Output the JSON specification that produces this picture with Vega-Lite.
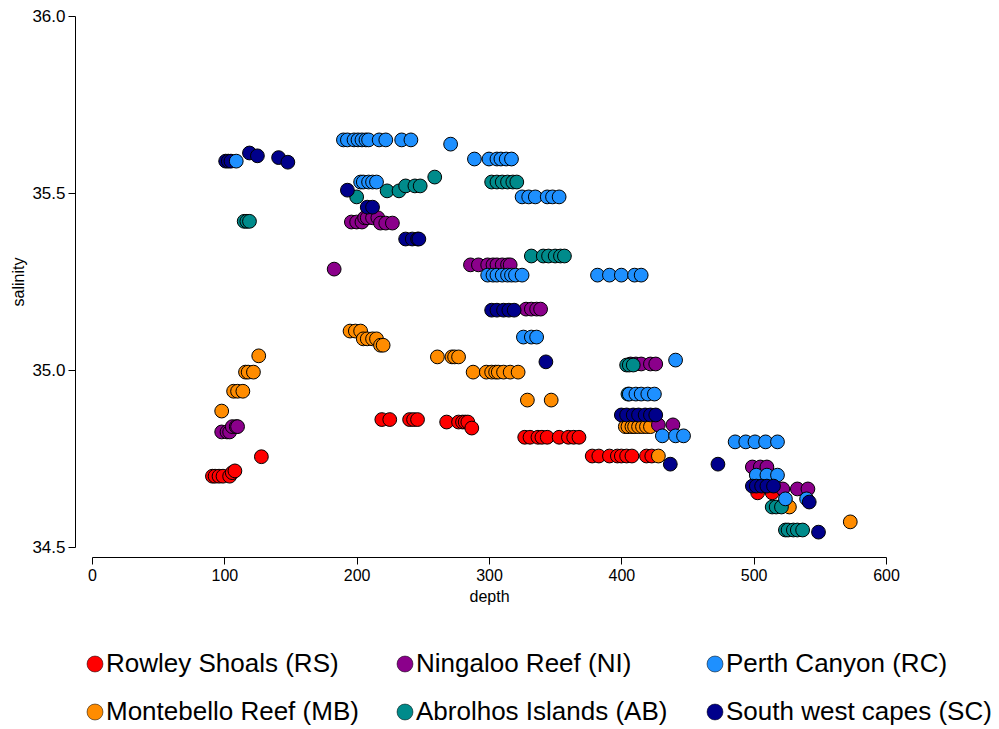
{
  "$schema": "https://vega.github.io/schema/vega-lite/v6.json",
  "width": 794,
  "height": 531,
  "autosize": {"type": "none"},
  "padding": {"left": 92, "top": 16, "right": 113, "bottom": 182},
  "background": "white",
  "config": {
    "view": {"stroke": null},
    "font": "Liberation Sans",
    "axis": {"grid": false, "domainColor": "black", "tickColor": "black", "labelColor": "black", "titleColor": "black", "titleFontWeight": "normal", "labelFont": "Liberation Sans", "titleFont": "Liberation Sans"}
  },
  "data": {"values": [
    {"site": "South west capes (SC)", "depth": 101, "salinity": 35.59},
    {"site": "South west capes (SC)", "depth": 103, "salinity": 35.59},
    {"site": "South west capes (SC)", "depth": 105, "salinity": 35.59},

    {"site": "Rowley Shoals (RS)", "depth": 91, "salinity": 34.70},
    {"site": "Rowley Shoals (RS)", "depth": 93, "salinity": 34.70},
    {"site": "Rowley Shoals (RS)", "depth": 96, "salinity": 34.70},
    {"site": "Rowley Shoals (RS)", "depth": 99, "salinity": 34.70},
    {"site": "Rowley Shoals (RS)", "depth": 104, "salinity": 34.70},
    {"site": "Rowley Shoals (RS)", "depth": 106, "salinity": 34.71},
    {"site": "Rowley Shoals (RS)", "depth": 108, "salinity": 34.715},
    {"site": "Rowley Shoals (RS)", "depth": 128, "salinity": 34.755},
    {"site": "Rowley Shoals (RS)", "depth": 219, "salinity": 34.86},
    {"site": "Rowley Shoals (RS)", "depth": 225, "salinity": 34.86},
    {"site": "Rowley Shoals (RS)", "depth": 240, "salinity": 34.86},
    {"site": "Rowley Shoals (RS)", "depth": 243, "salinity": 34.86},
    {"site": "Rowley Shoals (RS)", "depth": 246, "salinity": 34.86},
    {"site": "Rowley Shoals (RS)", "depth": 268, "salinity": 34.853},
    {"site": "Rowley Shoals (RS)", "depth": 277, "salinity": 34.853},
    {"site": "Rowley Shoals (RS)", "depth": 280, "salinity": 34.853},
    {"site": "Rowley Shoals (RS)", "depth": 282, "salinity": 34.853},
    {"site": "Rowley Shoals (RS)", "depth": 284, "salinity": 34.853},
    {"site": "Rowley Shoals (RS)", "depth": 287, "salinity": 34.836},
    {"site": "Rowley Shoals (RS)", "depth": 327, "salinity": 34.81},
    {"site": "Rowley Shoals (RS)", "depth": 331, "salinity": 34.81},
    {"site": "Rowley Shoals (RS)", "depth": 337, "salinity": 34.81},
    {"site": "Rowley Shoals (RS)", "depth": 340, "salinity": 34.81},
    {"site": "Rowley Shoals (RS)", "depth": 344, "salinity": 34.81},
    {"site": "Rowley Shoals (RS)", "depth": 353, "salinity": 34.81},
    {"site": "Rowley Shoals (RS)", "depth": 360, "salinity": 34.81},
    {"site": "Rowley Shoals (RS)", "depth": 364, "salinity": 34.81},
    {"site": "Rowley Shoals (RS)", "depth": 368, "salinity": 34.81},
    {"site": "Rowley Shoals (RS)", "depth": 378, "salinity": 34.757},
    {"site": "Rowley Shoals (RS)", "depth": 383, "salinity": 34.757},
    {"site": "Rowley Shoals (RS)", "depth": 391, "salinity": 34.757},
    {"site": "Rowley Shoals (RS)", "depth": 397, "salinity": 34.757},
    {"site": "Rowley Shoals (RS)", "depth": 400, "salinity": 34.757},
    {"site": "Rowley Shoals (RS)", "depth": 404, "salinity": 34.757},
    {"site": "Rowley Shoals (RS)", "depth": 408, "salinity": 34.757},
    {"site": "Rowley Shoals (RS)", "depth": 419, "salinity": 34.757},
    {"site": "Rowley Shoals (RS)", "depth": 423, "salinity": 34.757},
    {"site": "Rowley Shoals (RS)", "depth": 503, "salinity": 34.653},
    {"site": "Rowley Shoals (RS)", "depth": 514, "salinity": 34.653},

    {"site": "Montebello Reef (MB)", "depth": 98, "salinity": 34.884},
    {"site": "Montebello Reef (MB)", "depth": 107, "salinity": 34.94},
    {"site": "Montebello Reef (MB)", "depth": 110, "salinity": 34.94},
    {"site": "Montebello Reef (MB)", "depth": 114, "salinity": 34.94},
    {"site": "Montebello Reef (MB)", "depth": 116, "salinity": 34.994},
    {"site": "Montebello Reef (MB)", "depth": 118, "salinity": 34.994},
    {"site": "Montebello Reef (MB)", "depth": 122, "salinity": 34.994},
    {"site": "Montebello Reef (MB)", "depth": 126, "salinity": 35.04},
    {"site": "Montebello Reef (MB)", "depth": 195, "salinity": 35.11},
    {"site": "Montebello Reef (MB)", "depth": 199, "salinity": 35.11},
    {"site": "Montebello Reef (MB)", "depth": 203, "salinity": 35.11},
    {"site": "Montebello Reef (MB)", "depth": 205, "salinity": 35.088},
    {"site": "Montebello Reef (MB)", "depth": 208, "salinity": 35.088},
    {"site": "Montebello Reef (MB)", "depth": 212, "salinity": 35.088},
    {"site": "Montebello Reef (MB)", "depth": 215, "salinity": 35.088},
    {"site": "Montebello Reef (MB)", "depth": 218, "salinity": 35.07},
    {"site": "Montebello Reef (MB)", "depth": 220, "salinity": 35.07},
    {"site": "Montebello Reef (MB)", "depth": 261, "salinity": 35.037},
    {"site": "Montebello Reef (MB)", "depth": 272, "salinity": 35.037},
    {"site": "Montebello Reef (MB)", "depth": 274, "salinity": 35.037},
    {"site": "Montebello Reef (MB)", "depth": 277, "salinity": 35.037},
    {"site": "Montebello Reef (MB)", "depth": 288, "salinity": 34.994},
    {"site": "Montebello Reef (MB)", "depth": 298, "salinity": 34.994},
    {"site": "Montebello Reef (MB)", "depth": 302, "salinity": 34.994},
    {"site": "Montebello Reef (MB)", "depth": 305, "salinity": 34.994},
    {"site": "Montebello Reef (MB)", "depth": 307, "salinity": 34.994},
    {"site": "Montebello Reef (MB)", "depth": 311, "salinity": 34.994},
    {"site": "Montebello Reef (MB)", "depth": 316, "salinity": 34.994},
    {"site": "Montebello Reef (MB)", "depth": 322, "salinity": 34.994},
    {"site": "Montebello Reef (MB)", "depth": 329, "salinity": 34.915},
    {"site": "Montebello Reef (MB)", "depth": 347, "salinity": 34.915},
    {"site": "Montebello Reef (MB)", "depth": 403, "salinity": 34.84},
    {"site": "Montebello Reef (MB)", "depth": 405, "salinity": 34.84},
    {"site": "Montebello Reef (MB)", "depth": 408, "salinity": 34.84},
    {"site": "Montebello Reef (MB)", "depth": 410, "salinity": 34.84},
    {"site": "Montebello Reef (MB)", "depth": 413, "salinity": 34.84},
    {"site": "Montebello Reef (MB)", "depth": 416, "salinity": 34.84},
    {"site": "Montebello Reef (MB)", "depth": 419, "salinity": 34.84},
    {"site": "Montebello Reef (MB)", "depth": 422, "salinity": 34.84},
    {"site": "Montebello Reef (MB)", "depth": 428, "salinity": 34.757},
    {"site": "Montebello Reef (MB)", "depth": 527, "salinity": 34.613},
    {"site": "Montebello Reef (MB)", "depth": 573, "salinity": 34.571},

    {"site": "Ningaloo Reef (NI)", "depth": 98, "salinity": 34.825},
    {"site": "Ningaloo Reef (NI)", "depth": 102, "salinity": 34.825},
    {"site": "Ningaloo Reef (NI)", "depth": 104, "salinity": 34.825},
    {"site": "Ningaloo Reef (NI)", "depth": 106, "salinity": 34.84},
    {"site": "Ningaloo Reef (NI)", "depth": 109, "salinity": 34.84},
    {"site": "Ningaloo Reef (NI)", "depth": 110, "salinity": 34.84},
    {"site": "Ningaloo Reef (NI)", "depth": 183, "salinity": 35.285},
    {"site": "Ningaloo Reef (NI)", "depth": 196, "salinity": 35.418},
    {"site": "Ningaloo Reef (NI)", "depth": 200, "salinity": 35.418},
    {"site": "Ningaloo Reef (NI)", "depth": 204, "salinity": 35.418},
    {"site": "Ningaloo Reef (NI)", "depth": 206, "salinity": 35.43},
    {"site": "Ningaloo Reef (NI)", "depth": 208, "salinity": 35.43},
    {"site": "Ningaloo Reef (NI)", "depth": 212, "salinity": 35.43},
    {"site": "Ningaloo Reef (NI)", "depth": 216, "salinity": 35.43},
    {"site": "Ningaloo Reef (NI)", "depth": 218, "salinity": 35.415},
    {"site": "Ningaloo Reef (NI)", "depth": 222, "salinity": 35.415},
    {"site": "Ningaloo Reef (NI)", "depth": 227, "salinity": 35.415},
    {"site": "Ningaloo Reef (NI)", "depth": 286, "salinity": 35.297},
    {"site": "Ningaloo Reef (NI)", "depth": 292, "salinity": 35.297},
    {"site": "Ningaloo Reef (NI)", "depth": 299, "salinity": 35.297},
    {"site": "Ningaloo Reef (NI)", "depth": 303, "salinity": 35.297},
    {"site": "Ningaloo Reef (NI)", "depth": 306, "salinity": 35.297},
    {"site": "Ningaloo Reef (NI)", "depth": 310, "salinity": 35.297},
    {"site": "Ningaloo Reef (NI)", "depth": 314, "salinity": 35.297},
    {"site": "Ningaloo Reef (NI)", "depth": 316, "salinity": 35.297},
    {"site": "Ningaloo Reef (NI)", "depth": 328, "salinity": 35.172},
    {"site": "Ningaloo Reef (NI)", "depth": 332, "salinity": 35.172},
    {"site": "Ningaloo Reef (NI)", "depth": 336, "salinity": 35.172},
    {"site": "Ningaloo Reef (NI)", "depth": 339, "salinity": 35.172},
    {"site": "Ningaloo Reef (NI)", "depth": 407, "salinity": 35.017},
    {"site": "Ningaloo Reef (NI)", "depth": 411, "salinity": 35.017},
    {"site": "Ningaloo Reef (NI)", "depth": 415, "salinity": 35.017},
    {"site": "Ningaloo Reef (NI)", "depth": 422, "salinity": 35.017},
    {"site": "Ningaloo Reef (NI)", "depth": 426, "salinity": 35.017},
    {"site": "Ningaloo Reef (NI)", "depth": 428, "salinity": 34.845},
    {"site": "Ningaloo Reef (NI)", "depth": 439, "salinity": 34.845},
    {"site": "Ningaloo Reef (NI)", "depth": 499, "salinity": 34.726},
    {"site": "Ningaloo Reef (NI)", "depth": 505, "salinity": 34.726},
    {"site": "Ningaloo Reef (NI)", "depth": 510, "salinity": 34.726},
    {"site": "Ningaloo Reef (NI)", "depth": 522, "salinity": 34.664},
    {"site": "Ningaloo Reef (NI)", "depth": 533, "salinity": 34.664},
    {"site": "Ningaloo Reef (NI)", "depth": 541, "salinity": 34.664},

    {"site": "Abrolhos Islands (AB)", "depth": 115, "salinity": 35.42},
    {"site": "Abrolhos Islands (AB)", "depth": 117, "salinity": 35.42},
    {"site": "Abrolhos Islands (AB)", "depth": 119, "salinity": 35.42},
    {"site": "Abrolhos Islands (AB)", "depth": 200, "salinity": 35.489},
    {"site": "Abrolhos Islands (AB)", "depth": 223, "salinity": 35.506},
    {"site": "Abrolhos Islands (AB)", "depth": 232, "salinity": 35.506},
    {"site": "Abrolhos Islands (AB)", "depth": 237, "salinity": 35.52},
    {"site": "Abrolhos Islands (AB)", "depth": 244, "salinity": 35.52},
    {"site": "Abrolhos Islands (AB)", "depth": 248, "salinity": 35.52},
    {"site": "Abrolhos Islands (AB)", "depth": 259, "salinity": 35.545},
    {"site": "Abrolhos Islands (AB)", "depth": 302, "salinity": 35.531},
    {"site": "Abrolhos Islands (AB)", "depth": 306, "salinity": 35.531},
    {"site": "Abrolhos Islands (AB)", "depth": 310, "salinity": 35.531},
    {"site": "Abrolhos Islands (AB)", "depth": 314, "salinity": 35.531},
    {"site": "Abrolhos Islands (AB)", "depth": 318, "salinity": 35.531},
    {"site": "Abrolhos Islands (AB)", "depth": 321, "salinity": 35.531},
    {"site": "Abrolhos Islands (AB)", "depth": 332, "salinity": 35.322},
    {"site": "Abrolhos Islands (AB)", "depth": 341, "salinity": 35.322},
    {"site": "Abrolhos Islands (AB)", "depth": 345, "salinity": 35.322},
    {"site": "Abrolhos Islands (AB)", "depth": 350, "salinity": 35.322},
    {"site": "Abrolhos Islands (AB)", "depth": 354, "salinity": 35.322},
    {"site": "Abrolhos Islands (AB)", "depth": 357, "salinity": 35.322},
    {"site": "Abrolhos Islands (AB)", "depth": 404, "salinity": 35.014},
    {"site": "Abrolhos Islands (AB)", "depth": 406, "salinity": 35.014},
    {"site": "Abrolhos Islands (AB)", "depth": 409, "salinity": 35.014},
    {"site": "Abrolhos Islands (AB)", "depth": 405, "salinity": 34.932},
    {"site": "Abrolhos Islands (AB)", "depth": 514, "salinity": 34.613},
    {"site": "Abrolhos Islands (AB)", "depth": 517, "salinity": 34.613},
    {"site": "Abrolhos Islands (AB)", "depth": 521, "salinity": 34.613},
    {"site": "Abrolhos Islands (AB)", "depth": 524, "salinity": 34.548},
    {"site": "Abrolhos Islands (AB)", "depth": 526, "salinity": 34.548},
    {"site": "Abrolhos Islands (AB)", "depth": 530, "salinity": 34.548},
    {"site": "Abrolhos Islands (AB)", "depth": 533, "salinity": 34.548},
    {"site": "Abrolhos Islands (AB)", "depth": 537, "salinity": 34.548},

    {"site": "Perth Canyon (RC)", "depth": 109, "salinity": 35.59},
    {"site": "Perth Canyon (RC)", "depth": 190, "salinity": 35.65},
    {"site": "Perth Canyon (RC)", "depth": 193, "salinity": 35.65},
    {"site": "Perth Canyon (RC)", "depth": 198, "salinity": 35.65},
    {"site": "Perth Canyon (RC)", "depth": 201, "salinity": 35.65},
    {"site": "Perth Canyon (RC)", "depth": 204, "salinity": 35.65},
    {"site": "Perth Canyon (RC)", "depth": 207, "salinity": 35.65},
    {"site": "Perth Canyon (RC)", "depth": 209, "salinity": 35.65},
    {"site": "Perth Canyon (RC)", "depth": 217, "salinity": 35.65},
    {"site": "Perth Canyon (RC)", "depth": 222, "salinity": 35.65},
    {"site": "Perth Canyon (RC)", "depth": 234, "salinity": 35.65},
    {"site": "Perth Canyon (RC)", "depth": 241, "salinity": 35.65},
    {"site": "Perth Canyon (RC)", "depth": 271, "salinity": 35.638},
    {"site": "Perth Canyon (RC)", "depth": 289, "salinity": 35.596},
    {"site": "Perth Canyon (RC)", "depth": 300, "salinity": 35.596},
    {"site": "Perth Canyon (RC)", "depth": 306, "salinity": 35.596},
    {"site": "Perth Canyon (RC)", "depth": 309, "salinity": 35.596},
    {"site": "Perth Canyon (RC)", "depth": 313, "salinity": 35.596},
    {"site": "Perth Canyon (RC)", "depth": 317, "salinity": 35.596},
    {"site": "Perth Canyon (RC)", "depth": 203, "salinity": 35.531},
    {"site": "Perth Canyon (RC)", "depth": 205, "salinity": 35.531},
    {"site": "Perth Canyon (RC)", "depth": 209, "salinity": 35.531},
    {"site": "Perth Canyon (RC)", "depth": 212, "salinity": 35.531},
    {"site": "Perth Canyon (RC)", "depth": 215, "salinity": 35.531},
    {"site": "Perth Canyon (RC)", "depth": 325, "salinity": 35.489},
    {"site": "Perth Canyon (RC)", "depth": 330, "salinity": 35.489},
    {"site": "Perth Canyon (RC)", "depth": 335, "salinity": 35.489},
    {"site": "Perth Canyon (RC)", "depth": 344, "salinity": 35.489},
    {"site": "Perth Canyon (RC)", "depth": 348, "salinity": 35.489},
    {"site": "Perth Canyon (RC)", "depth": 353, "salinity": 35.489},
    {"site": "Perth Canyon (RC)", "depth": 299, "salinity": 35.268},
    {"site": "Perth Canyon (RC)", "depth": 303, "salinity": 35.268},
    {"site": "Perth Canyon (RC)", "depth": 306, "salinity": 35.268},
    {"site": "Perth Canyon (RC)", "depth": 310, "salinity": 35.268},
    {"site": "Perth Canyon (RC)", "depth": 314, "salinity": 35.268},
    {"site": "Perth Canyon (RC)", "depth": 317, "salinity": 35.268},
    {"site": "Perth Canyon (RC)", "depth": 320, "salinity": 35.268},
    {"site": "Perth Canyon (RC)", "depth": 325, "salinity": 35.268},
    {"site": "Perth Canyon (RC)", "depth": 382, "salinity": 35.268},
    {"site": "Perth Canyon (RC)", "depth": 391, "salinity": 35.268},
    {"site": "Perth Canyon (RC)", "depth": 400, "salinity": 35.268},
    {"site": "Perth Canyon (RC)", "depth": 410, "salinity": 35.268},
    {"site": "Perth Canyon (RC)", "depth": 415, "salinity": 35.268},
    {"site": "Perth Canyon (RC)", "depth": 326, "salinity": 35.093},
    {"site": "Perth Canyon (RC)", "depth": 332, "salinity": 35.093},
    {"site": "Perth Canyon (RC)", "depth": 336, "salinity": 35.093},
    {"site": "Perth Canyon (RC)", "depth": 441, "salinity": 35.028},
    {"site": "Perth Canyon (RC)", "depth": 406, "salinity": 34.932},
    {"site": "Perth Canyon (RC)", "depth": 411, "salinity": 34.932},
    {"site": "Perth Canyon (RC)", "depth": 415, "salinity": 34.932},
    {"site": "Perth Canyon (RC)", "depth": 420, "salinity": 34.932},
    {"site": "Perth Canyon (RC)", "depth": 425, "salinity": 34.932},
    {"site": "Perth Canyon (RC)", "depth": 431, "salinity": 34.814},
    {"site": "Perth Canyon (RC)", "depth": 441, "salinity": 34.814},
    {"site": "Perth Canyon (RC)", "depth": 447, "salinity": 34.814},
    {"site": "Perth Canyon (RC)", "depth": 486, "salinity": 34.797},
    {"site": "Perth Canyon (RC)", "depth": 494, "salinity": 34.797},
    {"site": "Perth Canyon (RC)", "depth": 501, "salinity": 34.797},
    {"site": "Perth Canyon (RC)", "depth": 509, "salinity": 34.797},
    {"site": "Perth Canyon (RC)", "depth": 518, "salinity": 34.797},
    {"site": "Perth Canyon (RC)", "depth": 502, "salinity": 34.703},
    {"site": "Perth Canyon (RC)", "depth": 510, "salinity": 34.703},
    {"site": "Perth Canyon (RC)", "depth": 518, "salinity": 34.703},
    {"site": "Perth Canyon (RC)", "depth": 524, "salinity": 34.636},
    {"site": "Perth Canyon (RC)", "depth": 540, "salinity": 34.636},

    {"site": "South west capes (SC)", "depth": 119, "salinity": 35.613},
    {"site": "South west capes (SC)", "depth": 125, "salinity": 35.605},
    {"site": "South west capes (SC)", "depth": 141, "salinity": 35.6},
    {"site": "South west capes (SC)", "depth": 148, "salinity": 35.587},
    {"site": "South west capes (SC)", "depth": 193, "salinity": 35.508},
    {"site": "South west capes (SC)", "depth": 208, "salinity": 35.46},
    {"site": "South west capes (SC)", "depth": 212, "salinity": 35.46},
    {"site": "South west capes (SC)", "depth": 237, "salinity": 35.37},
    {"site": "South west capes (SC)", "depth": 242, "salinity": 35.37},
    {"site": "South west capes (SC)", "depth": 246, "salinity": 35.37},
    {"site": "South west capes (SC)", "depth": 247, "salinity": 35.37},
    {"site": "South west capes (SC)", "depth": 302, "salinity": 35.169},
    {"site": "South west capes (SC)", "depth": 306, "salinity": 35.169},
    {"site": "South west capes (SC)", "depth": 311, "salinity": 35.169},
    {"site": "South west capes (SC)", "depth": 315, "salinity": 35.169},
    {"site": "South west capes (SC)", "depth": 319, "salinity": 35.169},
    {"site": "South west capes (SC)", "depth": 343, "salinity": 35.023},
    {"site": "South west capes (SC)", "depth": 400, "salinity": 34.873},
    {"site": "South west capes (SC)", "depth": 404, "salinity": 34.873},
    {"site": "South west capes (SC)", "depth": 409, "salinity": 34.873},
    {"site": "South west capes (SC)", "depth": 413, "salinity": 34.873},
    {"site": "South west capes (SC)", "depth": 418, "salinity": 34.873},
    {"site": "South west capes (SC)", "depth": 422, "salinity": 34.873},
    {"site": "South west capes (SC)", "depth": 426, "salinity": 34.873},
    {"site": "South west capes (SC)", "depth": 437, "salinity": 34.734},
    {"site": "South west capes (SC)", "depth": 473, "salinity": 34.734},
    {"site": "South west capes (SC)", "depth": 499, "salinity": 34.672},
    {"site": "South west capes (SC)", "depth": 502, "salinity": 34.672},
    {"site": "South west capes (SC)", "depth": 506, "salinity": 34.672},
    {"site": "South west capes (SC)", "depth": 510, "salinity": 34.672},
    {"site": "South west capes (SC)", "depth": 515, "salinity": 34.672},
    {"site": "South west capes (SC)", "depth": 542, "salinity": 34.627},
    {"site": "South west capes (SC)", "depth": 549, "salinity": 34.542}
  ]},
  "mark": {"type": "point", "shape": "circle", "filled": true, "size": 190, "stroke": "black", "strokeWidth": 1, "opacity": 1},
  "encoding": {
    "x": {
      "field": "depth", "type": "quantitative",
      "scale": {"domain": [0, 600], "nice": false, "zero": false},
      "axis": {"values": [0, 100, 200, 300, 400, 500, 600], "offset": 10, "tickSize": 7, "labelFontSize": 16, "titleFontSize": 16, "labelPadding": 3, "titlePadding": 5, "title": "depth", "labelFlush": false}
    },
    "y": {
      "field": "salinity", "type": "quantitative",
      "scale": {"domain": [34.5, 36.0], "nice": false, "zero": false},
      "axis": {"values": [34.5, 35.0, 35.5, 36.0], "format": ".1f", "offset": 17, "tickSize": 7, "labelFontSize": 17, "titleFontSize": 16, "labelPadding": 3, "titlePadding": 5, "title": "salinity", "labelFlush": false}
    },
    "color": {
      "field": "site", "type": "nominal",
      "scale": {
        "domain": ["Rowley Shoals (RS)", "Ningaloo Reef (NI)", "Perth Canyon (RC)", "Montebello Reef (MB)", "Abrolhos Islands (AB)", "South west capes (SC)"],
        "range": ["#FF0000", "#8B008B", "#1E90FF", "#FF8C00", "#008B8B", "#00008B"]
      },
      "legend": {
        "title": null, "orient": "none", "legendX": -10, "legendY": 635,
        "direction": "horizontal", "columns": 3, "gridAlign": "all",
        "columnPadding": 20, "rowPadding": 22,
        "symbolType": "circle", "symbolSize": 256, "symbolStrokeColor": "black", "symbolStrokeWidth": 0.5,
        "labelFontSize": 26, "labelFont": "Liberation Sans", "labelColor": "black", "labelOffset": -2, "labelLimit": 400
      }
    }
  }
}
